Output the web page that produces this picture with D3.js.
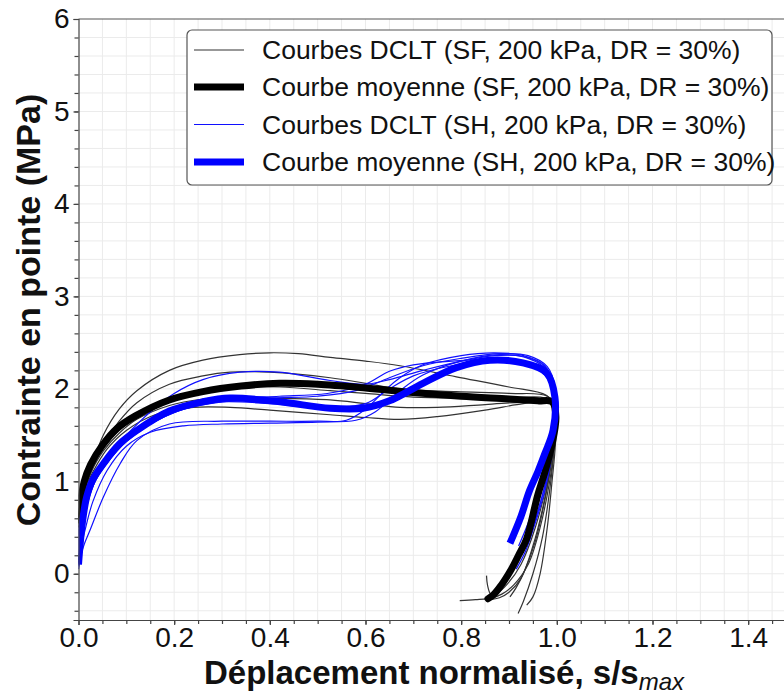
<!DOCTYPE html>
<html>
<head>
<meta charset="utf-8">
<script src="https://cdn.jsdelivr.net/npm/d3@7"></script>
<style>
body { margin: 0; background: white; }
text { font-family: "Liberation Sans", Arial, sans-serif; }
</style>
</head>
<body>
<script>
var w = 784;
var h = 697;

// axis ticks
var xTicks = [0, 0.2, 0.4, 0.6, 0.8, 1.0, 1.2, 1.4];
var yTicks = [0, 1, 2, 3, 4, 5, 6];

// Courbes DCLT (SF) - [s/smax, qc]
var sfA = [[0,0.6],[0.003,0.76],[0.012,0.95],[0.024,1.12],[0.052,1.5],[0.085,1.78],[0.122,1.98],[0.19,2.2],[0.26,2.31],[0.337,2.37],[0.4,2.39],[0.46,2.38],[0.526,2.34],[0.6,2.3],[0.672,2.25],[0.79,2.13],[0.9,2.02],[0.978,1.93],[0.998,1.8],[0.997,1.4],[0.99,1.0],[0.98,0.5],[0.965,0.0],[0.95,-0.25],[0.937,-0.34]];
var sfB = [[0,0.62],[0.003,0.74],[0.012,0.92],[0.025,1.08],[0.052,1.4],[0.085,1.65],[0.122,1.85],[0.19,2.05],[0.26,2.14],[0.317,2.18],[0.4,2.18],[0.526,2.12],[0.6,2.06],[0.672,2.0],[0.79,1.97],[0.9,1.95],[0.98,1.92],[0.998,1.78],[0.995,1.4],[0.985,0.9],[0.97,0.4],[0.95,0.0],[0.93,-0.3],[0.919,-0.43]];
var sfC = [[0,0.55],[0.004,0.72],[0.012,0.92],[0.026,1.1],[0.052,1.33],[0.085,1.52],[0.122,1.67],[0.19,1.82],[0.26,1.89],[0.317,1.91],[0.4,1.9],[0.526,1.88],[0.6,1.84],[0.672,1.8],[0.75,1.8],[0.85,1.83],[0.95,1.86],[0.99,1.85],[0.997,1.65],[0.99,1.25],[0.975,0.8],[0.955,0.35],[0.93,0.0],[0.915,-0.15],[0.902,-0.25]];
var sfD = [[0,0.5],[0.005,0.7],[0.014,0.92],[0.03,1.1],[0.06,1.35],[0.1,1.55],[0.16,1.72],[0.24,1.8],[0.317,1.8],[0.4,1.77],[0.526,1.72],[0.6,1.69],[0.672,1.67],[0.75,1.7],[0.85,1.77],[0.93,1.84],[0.98,1.86],[0.997,1.75],[0.995,1.4],[0.985,1.0],[0.965,0.5],[0.94,0.1],[0.91,-0.12],[0.885,-0.22],[0.865,-0.26],[0.83,-0.28],[0.797,-0.29]];
var sfE = [[0,0.6],[0.005,0.78],[0.012,0.97],[0.026,1.15],[0.052,1.36],[0.085,1.55],[0.122,1.7],[0.19,1.88],[0.26,1.98],[0.34,2.04],[0.42,2.06],[0.526,2.04],[0.6,2.0],[0.7,1.94],[0.8,1.9],[0.9,1.88],[0.97,1.88],[0.997,1.78],[0.993,1.4],[0.98,1.0],[0.955,0.5],[0.925,0.1],[0.895,-0.12],[0.875,-0.21],[0.862,-0.22],[0.855,-0.12],[0.853,-0.02]];
var sfF = [[0,0.57],[0.005,0.77],[0.012,0.98],[0.026,1.17],[0.052,1.4],[0.085,1.6],[0.122,1.74],[0.19,1.9],[0.26,1.99],[0.34,2.02],[0.42,2.02],[0.526,1.98],[0.6,1.95],[0.7,1.91],[0.8,1.9],[0.9,1.9],[0.975,1.9],[0.998,1.8],[0.995,1.5],[0.985,1.1],[0.97,0.7],[0.95,0.3],[0.925,-0.05],[0.9,-0.2],[0.88,-0.26],[0.86,-0.28]];

// Courbes DCLT (SH)
var shA = [[0,0.15],[0.004,0.35],[0.01,0.6],[0.02,0.85],[0.035,1.05],[0.06,1.27],[0.1,1.5],[0.15,1.75],[0.2,1.95],[0.26,2.1],[0.337,2.18],[0.42,2.18],[0.526,2.09],[0.6,2.05],[0.65,2.1],[0.72,2.2],[0.8,2.3],[0.87,2.36],[0.93,2.35],[0.975,2.24],[0.993,2.0],[0.995,1.7],[0.985,1.3],[0.97,0.95],[0.955,0.65],[0.94,0.4],[0.925,0.2]];
var shB = [[0,0.05],[0.005,0.2],[0.012,0.32],[0.024,0.47],[0.052,0.83],[0.087,1.19],[0.122,1.44],[0.19,1.62],[0.3,1.65],[0.4,1.65],[0.5,1.65],[0.56,1.66],[0.6,1.78],[0.64,1.98],[0.672,2.12],[0.72,2.26],[0.8,2.36],[0.87,2.39],[0.93,2.36],[0.975,2.25],[0.995,2.0],[0.997,1.7],[0.99,1.3],[0.975,0.9],[0.955,0.55],[0.935,0.25],[0.915,0.05]];
var shC = [[0,0.1],[0.006,0.3],[0.015,0.5],[0.03,0.78],[0.06,1.12],[0.1,1.38],[0.15,1.53],[0.22,1.6],[0.3,1.62],[0.4,1.63],[0.5,1.64],[0.58,1.66],[0.62,1.75],[0.672,1.98],[0.72,2.15],[0.8,2.3],[0.88,2.37],[0.94,2.33],[0.98,2.2],[0.997,1.95],[0.995,1.6],[0.985,1.2],[0.97,0.85],[0.95,0.5],[0.93,0.25]];
var shD = [[0,0.12],[0.004,0.32],[0.01,0.58],[0.02,0.86],[0.035,1.06],[0.06,1.25],[0.1,1.47],[0.15,1.65],[0.22,1.8],[0.3,1.86],[0.4,1.84],[0.5,1.8],[0.6,1.84],[0.65,2.0],[0.7,2.14],[0.78,2.25],[0.86,2.3],[0.93,2.27],[0.975,2.15],[0.995,1.9],[0.993,1.55],[0.98,1.2],[0.96,0.85],[0.94,0.55],[0.92,0.3]];
var shE = [[0,0.08],[0.004,0.28],[0.01,0.52],[0.02,0.78],[0.035,1.0],[0.06,1.2],[0.1,1.43],[0.15,1.62],[0.22,1.78],[0.3,1.86],[0.4,1.9],[0.5,1.92],[0.58,1.98],[0.65,2.12],[0.72,2.25],[0.8,2.33],[0.88,2.38],[0.94,2.36],[0.98,2.24],[0.997,2.0],[0.996,1.7],[0.988,1.3],[0.975,0.95],[0.955,0.6],[0.935,0.35]];
var shF = [[0,0.12],[0.005,0.36],[0.012,0.62],[0.025,0.88],[0.045,1.1],[0.08,1.33],[0.12,1.52],[0.18,1.7],[0.25,1.83],[0.33,1.9],[0.42,1.92],[0.52,1.95],[0.6,2.05],[0.65,2.19],[0.7,2.26],[0.78,2.3],[0.86,2.32],[0.93,2.3],[0.97,2.2],[0.99,2.05],[0.995,1.8],[0.99,1.45],[0.975,1.05],[0.955,0.65],[0.935,0.35],[0.912,0.08]];

// courbes moyennes
var sfMean = [[0,0.58],[0.005,0.8],[0.012,1.0],[0.025,1.18],[0.05,1.39],[0.08,1.57],[0.12,1.71],[0.19,1.88],[0.26,1.97],[0.34,2.03],[0.42,2.06],[0.5,2.05],[0.6,2.01],[0.7,1.96],[0.8,1.92],[0.9,1.89],[0.96,1.87],[0.99,1.86],[0.998,1.7],[0.99,1.4],[0.975,1.1],[0.96,0.85],[0.937,0.38],[0.92,0.2],[0.905,0.05],[0.88,-0.15],[0.865,-0.24],[0.856,-0.27]];
var shMean = [[0,0.1],[0.003,0.29],[0.008,0.55],[0.017,0.83],[0.03,1.02],[0.052,1.19],[0.085,1.4],[0.122,1.55],[0.19,1.76],[0.26,1.86],[0.317,1.9],[0.421,1.86],[0.526,1.79],[0.595,1.79],[0.65,1.87],[0.72,2.06],[0.79,2.23],[0.86,2.31],[0.929,2.28],[0.979,2.17],[0.996,1.91],[0.992,1.55],[0.975,1.3],[0.96,1.1],[0.943,0.9],[0.925,0.62],[0.902,0.33]];

var sfCurves = [sfA, sfB, sfC, sfD, sfE, sfF];
var shCurves = [shA, shB, shC, shD, shE, shF];

var legendLabels = [
    "Courbes DCLT (SF, 200 kPa, DR = 30%)",
    "Courbe moyenne (SF, 200 kPa, DR = 30%)",
    "Courbes DCLT (SH, 200 kPa, DR = 30%)",
    "Courbe moyenne (SH, 200 kPa, DR = 30%)"
];

var xScale = d3.scaleLinear()
    .domain([0, 1.5])
    .range([78.5, 796]);

var yScale = d3.scaleLinear()
    .domain([-0.5, 6])
    .range([620, 19]);

var svg = d3.select("body")
    .append("svg")
    .attr("width", w)
    .attr("height", h);

svg.append("clipPath")
    .attr("id", "plot")
    .append("rect")
    .attr("x", xScale(0))
    .attr("y", yScale(6))
    .attr("width", xScale(1.5) - xScale(0))
    .attr("height", yScale(-0.5) - yScale(6));

// grid
var xGrid = d3.range(1, 30).map(function (i) { return i * 0.05; });
var yGrid = d3.range(-2, 30).map(function (i) { return i * 0.2; });

svg.append("g")
    .selectAll("line")
    .data(xGrid)
    .enter()
    .append("line")
    .attr("x1", function (d) { return xScale(d); })
    .attr("x2", function (d) { return xScale(d); })
    .attr("y1", yScale(6))
    .attr("y2", yScale(-0.5))
    .style("stroke", "#ebebeb")
    .style("stroke-width", 1);

svg.append("g")
    .selectAll("line")
    .data(yGrid)
    .enter()
    .append("line")
    .attr("x1", xScale(0))
    .attr("x2", xScale(1.5))
    .attr("y1", function (d) { return yScale(d); })
    .attr("y2", function (d) { return yScale(d); })
    .style("stroke", "#ebebeb")
    .style("stroke-width", 1);

// top border
svg.append("line")
    .attr("x1", xScale(0))
    .attr("x2", xScale(1.5))
    .attr("y1", yScale(6))
    .attr("y2", yScale(6))
    .style("stroke", "#555")
    .style("stroke-width", 1.2);

var line = d3.line()
    .x(function (d) { return xScale(d[0]); })
    .y(function (d) { return yScale(d[1]); })
    .curve(d3.curveCatmullRom.alpha(0.5));

var plot = svg.append("g").attr("clip-path", "url(#plot)");

plot.selectAll("path.sf")
    .data(sfCurves)
    .enter()
    .append("path")
    .attr("class", "sf")
    .attr("d", line)
    .style("fill", "none")
    .style("stroke", "#333")
    .style("stroke-width", 1.2);

plot.selectAll("path.sh")
    .data(shCurves)
    .enter()
    .append("path")
    .attr("class", "sh")
    .attr("d", line)
    .style("fill", "none")
    .style("stroke", "#1010ff")
    .style("stroke-width", 1.2);

plot.append("path")
    .datum(sfMean)
    .attr("d", line)
    .style("fill", "none")
    .style("stroke", "black")
    .style("stroke-width", 7)
    .style("stroke-linecap", "round");

plot.append("path")
    .datum(shMean)
    .attr("d", line)
    .style("fill", "none")
    .style("stroke", "blue")
    .style("stroke-width", 7);

// axes
var xAxis = svg.append("g")
    .attr("transform", "translate(0," + yScale(-0.5) + ")")
    .call(d3.axisBottom(xScale)
        .tickValues(xTicks)
        .tickSize(5)
        .tickPadding(2)
        .tickFormat(d3.format(".1f")));

svg.append("g")
    .attr("transform", "translate(0," + yScale(-0.5) + ")")
    .call(d3.axisBottom(xScale)
        .tickValues(xGrid)
        .tickSize(4)
        .tickFormat(""))
    .select(".domain").remove();

var yAxis = svg.append("g")
    .attr("transform", "translate(" + xScale(0) + ",0)")
    .call(d3.axisLeft(yScale)
        .tickValues(yTicks)
        .tickSize(5)
        .tickPadding(4)
        .tickFormat(d3.format("d")));

svg.append("g")
    .attr("transform", "translate(" + xScale(0) + ",0)")
    .call(d3.axisLeft(yScale)
        .tickValues(yGrid.filter(function (d) { return d > -0.45; }))
        .tickSize(4)
        .tickFormat(""))
    .select(".domain").remove();

svg.selectAll(".domain, .tick line")
    .style("stroke", "#444")
    .style("stroke-width", 1.2);

xAxis.selectAll("text")
    .style("font-size", "28px")
    .style("font-family", "'Liberation Sans', Arial, sans-serif")
    .style("fill", "#111");

yAxis.selectAll("text")
    .style("font-size", "28px")
    .style("font-family", "'Liberation Sans', Arial, sans-serif")
    .style("fill", "#111");

// axis titles
var xTitle = svg.append("text")
    .attr("x", 444)
    .attr("y", 684)
    .attr("text-anchor", "middle")
    .style("font-size", "33px")
    .style("font-weight", "bold")
    .style("fill", "#111");
xTitle.append("tspan").text("Déplacement normalisé, s/s");
xTitle.append("tspan")
    .attr("dy", 6)
    .style("font-size", "24px")
    .style("font-style", "italic")
    .style("font-weight", "normal")
    .text("max");

svg.append("text")
    .attr("transform", "translate(40,310) rotate(-90)")
    .attr("text-anchor", "middle")
    .style("font-size", "34px")
    .style("font-weight", "bold")
    .style("fill", "#111")
    .text("Contrainte en pointe (MPa)");

// legend
var legend = svg.append("g");

legend.append("rect")
    .attr("x", 187)
    .attr("y", 30)
    .attr("width", 585)
    .attr("height", 155)
    .attr("rx", 5)
    .style("fill", "white")
    .style("stroke", "#555")
    .style("stroke-width", 1.2);

var legendColor = ["#333", "black", "#1010ff", "blue"];
var legendWidth = [1.2, 7, 1.2, 7];
var legendY = [50, 87, 124.5, 162];

legend.selectAll("line")
    .data(legendLabels)
    .enter()
    .append("line")
    .attr("x1", 194)
    .attr("x2", 244)
    .attr("y1", function (d, i) { return legendY[i]; })
    .attr("y2", function (d, i) { return legendY[i]; })
    .style("stroke", function (d, i) { return legendColor[i]; })
    .style("stroke-width", function (d, i) { return legendWidth[i]; });

legend.selectAll("text")
    .data(legendLabels)
    .enter()
    .append("text")
    .attr("x", 262)
    .attr("y", function (d, i) { return legendY[i]; })
    .attr("dy", "0.35em")
    .style("font-size", "26.5px")
    .style("fill", "#111")
    .text(function (d) { return d; });
</script>
</body>
</html>
